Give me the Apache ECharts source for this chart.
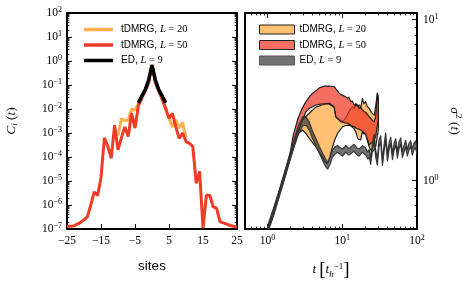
<!DOCTYPE html>
<html><head><meta charset="utf-8">
<script src="https://cdn.jsdelivr.net/npm/echarts@6/dist/echarts.min.js"></script>
<style>html,body{margin:0;padding:0;background:#fff}#c{width:469px;height:290px}</style>
</head><body><div id="c"></div><script>
// ---- left panel data: C_i(t) vs site ----
const sitesL50 = [-25,-24,-23,-22,-21,-20,-19,-18,-17,-16,-15,-14,-13,-12,-11,-10,-9,-8,-7,-6,-5,-4,-3,-2,-1,0,1,2,3,4,5,6,7,8,9,10,11,12,13,14,15,16,17,18,19,20,21,22,23,24,25];
const corrL50 = [1.3e-7,1.3e-7,1.35e-7,1.6e-7,1.9e-7,2.4e-7,3.3e-7,1.0e-6,3.5e-6,2.5e-6,1.4e-5,6.3e-4,2.8e-4,8.9e-5,2.1e-3,2.0e-4,6.3e-4,1.8e-3,7.1e-4,6.6e-3,1.6e-3,1.4e-2,2.8e-2,5.6e-2,0.126,0.68,0.126,5.6e-2,2.5e-2,1.07e-2,4.1e-3,6.6e-3,1.8e-3,6.0e-4,1.0e-3,4.4e-4,3.7e-4,2.8e-4,7.9e-6,2.5e-5,1.1e-7,2.6e-6,2.5e-6,8.5e-7,7.2e-7,2.0e-7,1.8e-7,1.6e-7,1.4e-7,1.3e-7,1.2e-7];
const sitesL20 = [-10,-9,-8,-7,-6,-5,-4,-3,-2,-1,0,1,2,3,4,5,6,7,8,9,10];
const corrL20 = [7.9e-4,4.0e-3,3.2e-3,3.5e-3,1.0e-2,8.9e-3,1.6e-2,3.2e-2,6.3e-2,0.135,0.68,0.135,6.3e-2,2.8e-2,1.1e-2,4.0e-3,1.8e-3,3.5e-3,1.6e-3,2.8e-3,6.3e-4];
const sitesED = [-4,-3,-2,-1,0,1,2,3,4];
const corrED = [0.018,0.035,0.063,0.16,0.68,0.16,0.063,0.035,0.018];

// ---- right panel data: sigma^2(t) bands (lower / upper edge) ----
const tL20 = [1.0,1.2,1.4,1.7,2.0,2.3,2.6,2.96,3.3,3.63,4.0,4.45,5.2,5.8,6.3,6.7,7.4,7.8,8.2,8.7,10.1,11.1,12.4,13.7,14.4,15.2,16.1,16.8,17.7,18.6,19.5,20.6,21.5,22.9,24.0,25.4,26.7,28.0,29.5,30.4];
const lowL20 = [0.49,0.63,0.79,1.06,1.37,1.68,1.97,2.06,1.95,1.83,1.72,1.62,1.44,1.32,1.27,1.36,1.62,1.75,1.86,1.97,2.16,2.2,2.21,2.14,2.1,2.0,1.83,1.8,1.79,2.01,1.95,1.97,1.8,1.62,1.55,1.51,1.55,1.62,1.9,2.06];
const highL20 = [0.5,0.65,0.82,1.1,1.43,1.78,2.12,2.38,2.52,2.62,2.74,2.86,2.94,2.98,3.0,2.98,2.9,2.84,2.5,2.42,2.32,2.45,2.7,2.88,2.8,3.02,2.88,2.95,2.85,3.24,3.0,3.09,2.9,2.81,2.7,2.6,2.55,2.9,3.49,3.3];

const tL50 = [1.0,1.2,1.4,1.7,2.0,2.2,2.56,2.9,3.27,3.6,4.02,4.45,5.0,5.76,6.7,7.8,8.2,9.1,9.6,10.3,11.1,11.8,12.3,13.0,13.6,14.4,15.2,16.0,16.8,17.7,18.6,19.7,20.6,21.7,22.9,24.0,25.4,26.7,28.0,29.5,30.4];
const lowL50 = [0.49,0.63,0.79,1.07,1.38,1.6,2.0,2.35,2.68,2.8,2.88,2.95,2.98,3.0,3.02,2.88,2.49,2.38,2.32,2.3,2.28,2.27,2.25,2.2,2.18,2.16,2.12,2.1,2.08,2.06,2.02,1.98,1.92,1.8,1.66,1.7,1.74,1.8,1.88,2.2,2.38];
const highL50 = [0.5,0.65,0.82,1.11,1.46,1.9,2.44,2.8,3.1,3.3,3.49,3.62,3.78,3.86,3.87,3.83,3.72,3.49,3.42,3.38,3.32,3.25,3.3,3.09,3.12,2.97,2.92,2.95,2.81,2.84,2.75,2.68,2.66,2.58,2.49,2.44,2.36,2.32,2.5,3.49,3.0];

const tED = [1.0,1.2,1.4,1.7,2.0,2.3,2.6,2.98,3.3,3.63,4.02,4.5,4.94,5.5,6.0,6.4,6.8,7.4,8.0,8.7,9.4,10.1,11.1,12.3,13.0,14.4,15.8,16.8,18.6,19.3,20.6,22.0,23.0,24.0,25.2,26.7,28.0,29.5,31.0,32.7,34.5,36.2,38.1,40.2,42.3,44.5,46.9,49.3,51.9,54.7,57.5,60.5,63.7,67.0,70.5,74.3,78.2,82.2,86.6,91.0,95.7,100];
const lowED = [0.47,0.6,0.76,1.03,1.33,1.65,1.95,2.2,2.2,2.05,1.82,1.62,1.48,1.33,1.22,1.18,1.25,1.4,1.46,1.5,1.45,1.42,1.5,1.44,1.47,1.52,1.44,1.42,1.5,1.48,1.44,1.36,1.4,1.26,1.5,1.76,1.4,1.25,1.62,1.72,1.24,1.5,1.8,1.32,1.55,1.7,1.35,1.55,1.66,1.38,1.58,1.68,1.39,1.5,1.62,1.42,1.55,1.62,1.44,1.55,1.6,1.46];
const highED = [0.52,0.67,0.84,1.14,1.48,1.85,2.2,2.5,2.48,2.3,2.02,1.8,1.63,1.47,1.36,1.3,1.38,1.55,1.62,1.65,1.6,1.57,1.65,1.58,1.62,1.68,1.59,1.57,1.65,1.63,1.59,1.5,1.56,1.38,1.66,1.94,1.55,1.36,1.78,1.9,1.36,1.65,1.98,1.46,1.7,1.86,1.48,1.7,1.82,1.52,1.73,1.84,1.52,1.65,1.78,1.56,1.7,1.77,1.58,1.7,1.76,1.6];

// ---- tick labels ----
const siteTicks = [-25,-15,-5,5,15,25];
const corrTicks = [1e-7,1e-6,1e-5,1e-4,1e-3,1e-2,1e-1,1,1e1,1e2];
const timeTicks = [1,10,100];
const sigmaTicks = [1,10];

const SERIF = "'Liberation Serif','Times New Roman',serif";
const SANS = "'Liberation Sans',Arial,sans-serif";
const C_L20 = '#FDB14E', C_L50 = '#F03C26';
const F_L20 = 'rgba(253,172,70,0.75)', F_L50 = 'rgba(238,56,36,0.72)', F_ED = 'rgba(60,60,60,0.72)';

function minorTicks(lo, hi) {
  const out = [];
  for (let e = Math.floor(Math.log10(lo)); e <= Math.ceil(Math.log10(hi)); e++) {
    for (let m = 2; m <= 9; m++) {
      const v = m * Math.pow(10, e);
      if (v > lo * 1.001 && v < hi * 0.999) out.push(v);
    }
  }
  return out;
}
function powLabel(v) {
  const e = Math.round(Math.log10(v));
  return '{b|10}{e|' + (e < 0 ? '\u2212' + (-e) : '' + e) + '}';
}
const powRich = {
  b: {fontFamily: SERIF, fontSize: 11.5, color: '#000', lineHeight: 14},
  e: {fontFamily: SERIF, fontSize: 8, color: '#000', lineHeight: 8, verticalAlign: 'top'}
};
const LINE = {show: true, onZero: false, lineStyle: {color: '#000', width: 2}};
const NOLINE = {show: false, onZero: false};
function majorTick(vals) { return {show: true, inside: true, length: 5, customValues: vals, lineStyle: {color: '#000', width: 1}}; }
function minorTick(vals) { return {show: true, inside: true, length: 2.5, customValues: vals, lineStyle: {color: '#000', width: 0.8}}; }
const NOLABEL = {show: false};
const NOSPLIT = {show: false};

function zip(a, b) { return a.map((x, i) => [x, b[i]]); }

// band drawn as one filled polygon between the lower and upper edge, through the axes' scales
function bandSeries(name, t, lo, hi, fill, edge) {
  return {
    name: name, type: 'custom', xAxisIndex: 2, yAxisIndex: 4, color: fill,
    data: t.map((x, i) => [x, lo[i], hi[i]]),
    encode: {x: 0, y: [1, 2]},
    renderItem: function (params, api) {
      if (params.dataIndex !== 0) return null;
      const up = t.map((x, i) => api.coord([x, hi[i]]));
      const dn = t.map((x, i) => api.coord([x, lo[i]]));
      const poly = up.concat(dn.slice().reverse());
      const cs = params.coordSys;
      return {
        type: 'group',
        clipPath: {type: 'rect', shape: {x: cs.x, y: cs.y, width: cs.width, height: cs.height}},
        children: [
          {type: 'polygon', shape: {points: poly}, style: {fill: fill, stroke: edge, lineWidth: 1.15, lineJoin: 'round'}}
        ]
      };
    }
  };
}

const legendNames = {
  L20: '{s|tDMRG, }{i|L}{r| = 20}', L50: '{s|tDMRG, }{i|L}{r| = 50}', ED: '{s|ED, }{i|L}{r| = 9}',
  B20: '{s|tDMRG, }{i|L}{r| = 20}', B50: '{s|tDMRG, }{i|L}{r| = 50}', BED: '{s|ED, }{i|L}{r| = 9}'
};
const legendRich = {
  s: {fontFamily: SANS, fontSize: 10, color: '#000', lineHeight: 12},
  i: {fontFamily: SERIF, fontStyle: 'italic', fontSize: 10.5, color: '#000', lineHeight: 12},
  r: {fontFamily: SERIF, fontSize: 10.5, color: '#000', lineHeight: 12}
};

const chart = echarts.init(document.getElementById('c'), null, {renderer: 'canvas'});
const xR = {gridIndex: 1, type: 'log', min: 0.5, max: 100, splitLine: NOSPLIT};
const yL = {gridIndex: 0, type: 'log', min: 1e-7, max: 1e2, splitLine: NOSPLIT};
const yR = {gridIndex: 1, type: 'log', min: 0.5, max: 11, splitLine: NOSPLIT};

chart.setOption({
  animation: false,
  backgroundColor: '#fff',
  grid: [
    {left: 67, top: 13, width: 170, height: 216, containLabel: false},
    {left: 245, top: 13, width: 172, height: 216, containLabel: false}
  ],
  legend: [
    {left: 79, top: 19, orient: 'vertical', icon: 'rect', itemWidth: 29, itemHeight: 3.5, itemGap: 4.5,
     data: [{name: 'L20', itemStyle: {color: C_L20, borderWidth: 0}}, {name: 'L50', itemStyle: {color: C_L50, borderWidth: 0}}, {name: 'ED', itemStyle: {color: '#000', borderWidth: 0}}],
     formatter: n => legendNames[n], textStyle: {rich: legendRich, padding: [0, 0, 0, 3]}, selectedMode: false},
    {left: 254, top: 19, orient: 'vertical', icon: 'rect', itemWidth: 35, itemHeight: 9, itemGap: 4.5,
     data: [{name: 'B20', itemStyle: {color: F_L20, borderColor: '#222', borderWidth: 1}},
            {name: 'B50', itemStyle: {color: F_L50, borderColor: '#222', borderWidth: 1}},
            {name: 'BED', itemStyle: {color: F_ED, borderColor: '#555', borderWidth: 1}}],
     formatter: n => legendNames[n], textStyle: {rich: legendRich, padding: [0, 0, 0, 0]}, selectedMode: false}
  ],
  xAxis: [
    {gridIndex: 0, type: 'value', min: -25, max: 25, position: 'bottom', axisLine: LINE, axisTick: majorTick(siteTicks),
     axisLabel: {customValues: siteTicks, formatter: v => (v < 0 ? '\u2212' + (-v) : '' + v), fontFamily: SERIF, fontSize: 11.5, color: '#000', margin: 6},
     splitLine: NOSPLIT, name: 'sites', nameLocation: 'middle', nameGap: 30, nameTextStyle: {fontFamily: SANS, fontSize: 13.5, color: '#000'}},
    {gridIndex: 0, type: 'value', min: -25, max: 25, position: 'top', axisLine: LINE, axisTick: {show: false}, axisLabel: NOLABEL, splitLine: NOSPLIT},
    Object.assign({}, xR, {position: 'bottom', axisLine: LINE, axisTick: majorTick(timeTicks),
     axisLabel: {customValues: timeTicks, formatter: powLabel, rich: powRich, margin: 5},
     name: '{i|t}{n| }{br|[}{i|t}{sb|h}{sp|\u22121}{br|]}', nameLocation: 'middle', nameGap: 31,
     nameTextStyle: {rich: {
       i: {fontFamily: SERIF, fontStyle: 'italic', fontSize: 13, color: '#000', lineHeight: 20},
       n: {fontFamily: SERIF, fontSize: 13, color: '#000', lineHeight: 20},
       br: {fontFamily: SERIF, fontSize: 19, color: '#000', lineHeight: 20},
       sb: {fontFamily: SERIF, fontStyle: 'italic', fontSize: 9, color: '#000', lineHeight: 9, verticalAlign: 'bottom', padding: [0, 0, 1, 0]},
       sp: {fontFamily: SERIF, fontSize: 9, color: '#000', lineHeight: 9, verticalAlign: 'top', padding: [2, 0, 0, 0]}
     }}}),
    Object.assign({}, xR, {position: 'bottom', axisLine: NOLINE, axisTick: minorTick(minorTicks(0.5, 100)), axisLabel: NOLABEL}),
    Object.assign({}, xR, {position: 'top', axisLine: LINE, axisTick: majorTick(timeTicks), axisLabel: NOLABEL}),
    Object.assign({}, xR, {position: 'top', axisLine: NOLINE, axisTick: minorTick(minorTicks(0.5, 100)), axisLabel: NOLABEL})
  ],
  yAxis: [
    Object.assign({}, yL, {position: 'left', axisLine: LINE, axisTick: majorTick(corrTicks),
     axisLabel: {customValues: corrTicks, formatter: powLabel, rich: powRich, margin: 5},
     name: '{i|C}{sb|i}{n| (}{i|t}{n|)}', nameLocation: 'middle', nameGap: 48, nameRotate: 90,
     nameTextStyle: {rich: {
       i: {fontFamily: SERIF, fontStyle: 'italic', fontSize: 13.5, color: '#000', lineHeight: 16},
       n: {fontFamily: SERIF, fontSize: 13.5, color: '#000', lineHeight: 16},
       sb: {fontFamily: SERIF, fontStyle: 'italic', fontSize: 9, color: '#000', lineHeight: 9, verticalAlign: 'bottom'}
     }}}),
    Object.assign({}, yL, {position: 'left', axisLine: NOLINE, axisTick: minorTick(minorTicks(1e-7, 1e2)), axisLabel: NOLABEL}),
    Object.assign({}, yL, {position: 'right', axisLine: LINE, axisTick: majorTick(corrTicks), axisLabel: NOLABEL}),
    Object.assign({}, yL, {position: 'right', axisLine: NOLINE, axisTick: minorTick(minorTicks(1e-7, 1e2)), axisLabel: NOLABEL}),
    Object.assign({}, yR, {position: 'right', axisLine: LINE, axisTick: majorTick(sigmaTicks),
     axisLabel: {customValues: sigmaTicks, formatter: powLabel, rich: powRich, margin: 6},
     name: '{g|\u03c3}{p|2}{n| (}{i|t}{n|)}', nameLocation: 'middle', nameGap: 30, nameRotate: -90,
     nameTextStyle: {rich: {
       g: {fontFamily: SERIF, fontStyle: 'italic', fontSize: 13.5, color: '#000', lineHeight: 16},
       i: {fontFamily: SERIF, fontStyle: 'italic', fontSize: 13.5, color: '#000', lineHeight: 16},
       n: {fontFamily: SERIF, fontSize: 13.5, color: '#000', lineHeight: 16},
       p: {fontFamily: SERIF, fontSize: 9, color: '#000', lineHeight: 9, verticalAlign: 'top'}
     }}}),
    Object.assign({}, yR, {position: 'right', axisLine: NOLINE, axisTick: minorTick(minorTicks(0.5, 11)), axisLabel: NOLABEL}),
    Object.assign({}, yR, {position: 'left', axisLine: LINE, axisTick: {show: false}, axisLabel: NOLABEL})
  ],
  series: [
    {name: 'L20', type: 'line', xAxisIndex: 0, yAxisIndex: 0, data: zip(sitesL20, corrL20), color: C_L20, symbol: 'none', lineStyle: {color: C_L20, width: 3}},
    {name: 'L50', type: 'line', xAxisIndex: 0, yAxisIndex: 0, data: zip(sitesL50, corrL50), color: C_L50, symbol: 'none', lineStyle: {color: C_L50, width: 3}},
    {name: 'ED', type: 'line', xAxisIndex: 0, yAxisIndex: 0, data: zip(sitesED, corrED), color: '#000', symbol: 'none', lineStyle: {color: '#000', width: 3.5}},
    bandSeries('B20', tL20, lowL20, highL20, F_L20, '#1a1a1a'),
    bandSeries('B50', tL50, lowL50, highL50, F_L50, '#1a1a1a'),
    bandSeries('BED', tED, lowED, highED, F_ED, '#333')
  ]
});
</script></body></html>
